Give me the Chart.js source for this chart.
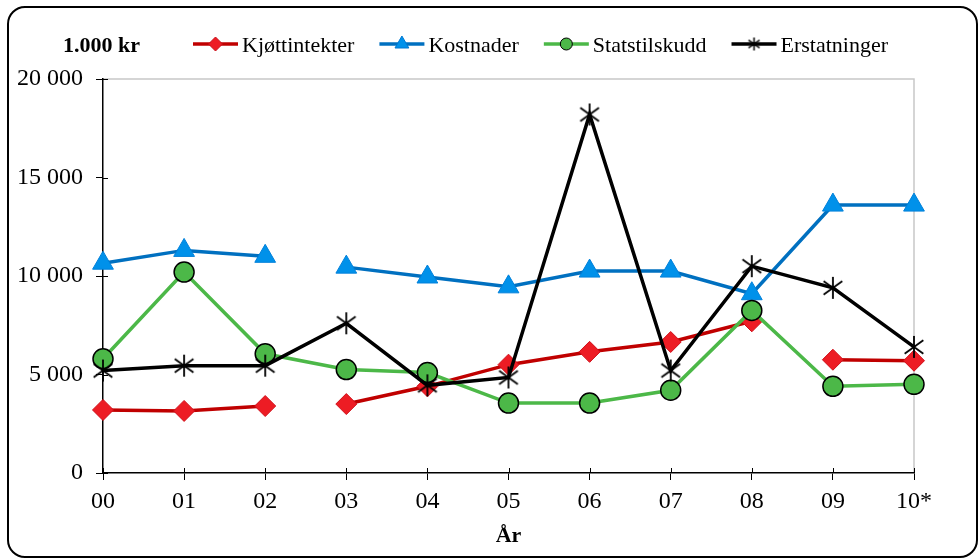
<!DOCTYPE html>
<html>
<head>
<meta charset="utf-8">
<script src="https://cdn.jsdelivr.net/npm/chart.js@4"></script>
<style>
  html, body { margin: 0; padding: 0; background: #fff; }
  #wrap { position: relative; width: 980px; height: 559px; }
  #frame {
    position: absolute; left: 7px; top: 6px; width: 967px; height: 548px;
    border: 2px solid #000; border-radius: 18px;
  }
  #chart { position: absolute; left: 0; top: 0; }
</style>
</head>
<body>
<div id="wrap">
  <div id="frame"></div>
  <canvas id="chart" width="980" height="559"></canvas>
</div>
<script>
// years (10* = estimate)
const years = ["00", "01", "02", "03", "04", "05", "06", "07", "08", "09", "10*"];

// 1.000 kr
const kjottintekter = [3200, 3150, 3400, 3500, 4400, 5500, 6150, 6650, 7700, 5750, 5700];
const kostnader = [10650, 11300, 11000, 10450, 9950, 9450, 10250, 10250, 9100, 13600, 13600];
const statstilskudd = [5800, 10200, 6050, 5250, 5100, 3550, 3550, 4200, 8250, 4400, 4500];
const erstatninger = [5200, 5450, 5450, 7600, 4450, 4850, 18200, 5200, 10500, 9400, 6400];

// segments that are not drawn (index of the point before the gap)
const kjottBreaks = [2, 8];
const kostBreaks = [2];

const yTicks = [0, 5000, 10000, 15000, 20000];

const FONT = "'Liberation Serif', 'Times New Roman', serif";

// asterisk marker (x plus vertical bar)
function makeStar(size, lw) {
  const c = document.createElement("canvas");
  c.width = size; c.height = size;
  const g = c.getContext("2d");
  const m = size / 2, r = size / 2 - 1;
  g.strokeStyle = "#000";
  g.lineWidth = lw;
  g.beginPath();
  g.moveTo(m, m - r); g.lineTo(m, m + r);
  const d = r * 0.85;
  g.moveTo(m - d, m - d * 0.72); g.lineTo(m + d, m + d * 0.72);
  g.moveTo(m - d, m + d * 0.72); g.lineTo(m + d, m - d * 0.72);
  g.stroke();
  return c;
}
const starBig = makeStar(24, 1.8);
const starSmall = makeStar(15, 1.5);

function gap(breaks) {
  return ctx => breaks.includes(ctx.p0DataIndex) ? "rgba(0,0,0,0)" : undefined;
}

const fmt = v => String(v).replace(/\B(?=(\d{3})+(?!\d))/g, " ");

const legendItems = [
  { label: "Kjøttintekter", line: "#C00000", fill: "#ED1C24", edge: "#C8101A", style: "rectRot", r: 7 },
  { label: "Kostnader", line: "#0070C0", fill: "#0091EA", edge: "#0077D0", style: "triangle", r: 8 },
  { label: "Statstilskudd", line: "#4CB848", fill: "#4CB848", edge: "#000", style: "circle", r: 6 },
  { label: "Erstatninger", line: "#000", fill: "#000", edge: "#000", style: starSmall, r: 7 }
];

const framePlugin = {
  id: "frame",
  beforeDraw(chart) {
    const { ctx, chartArea: a } = chart;
    ctx.save();
    ctx.strokeStyle = "#C8C8C8";
    ctx.lineWidth = 1.5;
    ctx.beginPath();
    ctx.moveTo(a.left, a.top);
    ctx.lineTo(a.right, a.top);
    ctx.lineTo(a.right, a.bottom);
    ctx.stroke();
    ctx.restore();
  },
  beforeDatasetsDraw(chart) {
    // tick marks cross the axes
    const { ctx, chartArea: a, scales } = chart;
    ctx.save();
    ctx.strokeStyle = "#000";
    ctx.lineWidth = 1;
    ctx.beginPath();
    scales.y.ticks.forEach(t => {
      const y = Math.round(scales.y.getPixelForValue(t.value)) + 0.5;
      ctx.moveTo(a.left, y); ctx.lineTo(a.left + 5, y);
    });
    years.forEach((_, i) => {
      const x = Math.round(scales.x.getPixelForValue(i)) + 0.5;
      ctx.moveTo(x, a.bottom); ctx.lineTo(x, a.bottom - 5);
    });
    ctx.stroke();
    ctx.restore();
  },
  afterDraw(chart) {
    const { ctx } = chart;
    ctx.save();
    ctx.textBaseline = "alphabetic";
    ctx.fillStyle = "#000";
    ctx.font = "bold 22px " + FONT;
    ctx.fillText("1.000 kr", 63, 52);
    ctx.font = "22px " + FONT;
    let x = 193;
    const y = 44;
    legendItems.forEach(it => {
      ctx.strokeStyle = it.line;
      ctx.lineWidth = 3.5;
      ctx.beginPath();
      ctx.moveTo(x, y); ctx.lineTo(x + 45, y);
      ctx.stroke();
      ctx.fillStyle = it.fill;
      ctx.strokeStyle = it.edge;
      ctx.lineWidth = 1;
      Chart.helpers.drawPoint(ctx, { pointStyle: it.style, radius: it.r, borderWidth: 1 }, x + 22.5, y);
      ctx.fillStyle = "#000";
      ctx.fillText(it.label, x + 49, 52);
      x += 49 + ctx.measureText(it.label).width + 25;
    });
    ctx.restore();
  }
};

new Chart(document.getElementById("chart"), {
  type: "line",
  data: {
    labels: years,
    datasets: [
      {
        label: "Erstatninger", data: erstatninger, order: 0,
        borderColor: "#000", borderWidth: 3.5,
        pointStyle: starBig, pointRadius: 12
      },
      {
        label: "Statstilskudd", data: statstilskudd, order: 1,
        borderColor: "#4CB848", borderWidth: 3.5,
        pointStyle: "circle", pointRadius: 10,
        pointBackgroundColor: "#4CB848", pointBorderColor: "#000", pointBorderWidth: 1.5
      },
      {
        label: "Kostnader", data: kostnader, order: 2,
        borderColor: "#0070C0", borderWidth: 3.5,
        segment: { borderColor: gap(kostBreaks) },
        pointStyle: "triangle", pointRadius: 12,
        pointBackgroundColor: "#0091EA", pointBorderColor: "#0080DA", pointBorderWidth: 1
      },
      {
        label: "Kjøttintekter", data: kjottintekter, order: 3,
        borderColor: "#C00000", borderWidth: 3.5,
        segment: { borderColor: gap(kjottBreaks) },
        pointStyle: "rectRot", pointRadius: 10.5,
        pointBackgroundColor: "#ED1C24", pointBorderColor: "#D0101A", pointBorderWidth: 1
      }
    ]
  },
  options: {
    responsive: false,
    animation: false,
    layout: { padding: { left: 0, top: 79, right: 66, bottom: 0 } },
    plugins: { legend: { display: false }, tooltip: { enabled: false } },
    elements: { line: { tension: 0 } },
    scales: {
      x: {
        offset: false,
        grid: { display: true, drawOnChartArea: false, color: "#000", tickLength: 7, lineWidth: 1 },
        border: { color: "#000", width: 1.5 },
        ticks: { color: "#000", font: { family: FONT, size: 24 }, padding: 7, maxRotation: 0, autoSkip: false },
        title: { display: true, text: "År", color: "#000", font: { family: FONT, size: 22, weight: "bold" }, padding: { top: 0, bottom: 9 } },
        afterFit(s) { s.height = 86; }
      },
      y: {
        min: 0, max: 20000,
        afterBuildTicks(s) { s.ticks = yTicks.map(v => ({ value: v })); },
        grid: { display: true, drawOnChartArea: false, color: "#000", tickLength: 7, lineWidth: 1 },
        border: { color: "#000", width: 1.5 },
        ticks: { color: "#000", font: { family: FONT, size: 24 }, padding: 13, callback: v => fmt(v) },
        afterFit(s) { s.width = 103; }
      }
    }
  },
  plugins: [framePlugin]
});
</script>
</body>
</html>
